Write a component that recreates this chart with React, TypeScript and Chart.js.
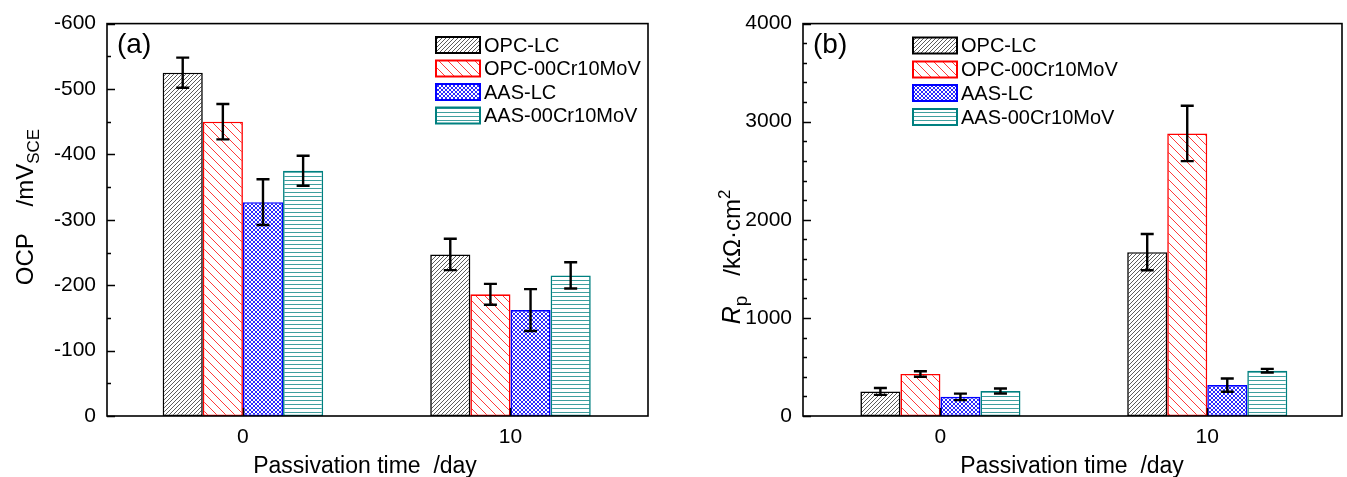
import React, { useEffect, useRef } from 'react';
import { Chart, registerables } from 'chart.js';

Chart.register(...registerables);

// ---------- data ----------
const DAYS = [0, 10];
const SERIES = ['OPC-LC', 'OPC-00Cr10MoV', 'AAS-LC', 'AAS-00Cr10MoV'];

// (a) open circuit potential, mV_SCE
const OCP_OPC_LC = [-525, -247];
const OCP_OPC_CR = [-450, -186];
const OCP_AAS_LC = [-327, -162];
const OCP_AAS_CR = [-375, -215];
const OCP_ERR_OPC_LC = [23, 24];
const OCP_ERR_OPC_CR = [27, 16];
const OCP_ERR_AAS_LC = [35, 32];
const OCP_ERR_AAS_CR = [23, 20];

// (b) polarization resistance, kΩ·cm²
const RP_OPC_LC = [250, 1670];
const RP_OPC_CR = [428, 2880];
const RP_AAS_LC = [195, 315];
const RP_AAS_CR = [255, 462];
const RP_ERR_OPC_LC = [35, 185];
const RP_ERR_OPC_CR = [28, 282];
const RP_ERR_AAS_LC = [33, 68];
const RP_ERR_AAS_CR = [25, 18];

// ---------- styles ----------
const FONT = '"Liberation Sans", Arial, Helvetica, sans-serif';
const BORDERS = ['#000000', '#ff0000', '#0000ff', '#008080'];

function makePattern(kind: string): CanvasPattern | string {
  const c = document.createElement('canvas');
  let w = 8, h = 8;
  if (kind === 'fwd') { w = h = 4; }
  if (kind === 'back') { w = h = 9; }
  if (kind === 'cross') { w = h = 4; }
  if (kind === 'horiz') { w = 4; h = 4; }
  c.width = w; c.height = h;
  const ctx = c.getContext('2d');
  if (!ctx) return '#fff';
  ctx.fillStyle = '#ffffff';
  ctx.fillRect(0, 0, w, h);
  ctx.beginPath();
  if (kind === 'fwd') {
    ctx.strokeStyle = '#4a4a4a';
    ctx.lineWidth = 0.9;
    ctx.moveTo(0, h); ctx.lineTo(w, 0);
    ctx.moveTo(-1, 1); ctx.lineTo(1, -1);
    ctx.moveTo(w - 1, h + 1); ctx.lineTo(w + 1, h - 1);
    ctx.stroke();
  } else if (kind === 'back') {
    ctx.strokeStyle = '#ff3a3a';
    ctx.lineWidth = 1;
    ctx.moveTo(0, 0); ctx.lineTo(w, h);
    ctx.moveTo(-1, h - 1); ctx.lineTo(1, h + 1);
    ctx.moveTo(w - 1, -1); ctx.lineTo(w + 1, 1);
    ctx.stroke();
  } else if (kind === 'cross') {
    ctx.strokeStyle = '#2a2aff';
    ctx.lineWidth = 1;
    ctx.moveTo(0, h); ctx.lineTo(w, 0);
    ctx.moveTo(-1, 1); ctx.lineTo(1, -1);
    ctx.moveTo(w - 1, h + 1); ctx.lineTo(w + 1, h - 1);
    ctx.moveTo(0, 0); ctx.lineTo(w, h);
    ctx.moveTo(-1, h - 1); ctx.lineTo(1, h + 1);
    ctx.moveTo(w - 1, -1); ctx.lineTo(w + 1, 1);
    ctx.stroke();
  } else if (kind === 'horiz') {
    ctx.fillStyle = '#3f9f9f';
    ctx.fillRect(0, 0, w, 1);
  }
  return ctx.createPattern(c, 'repeat') || '#fff';
}

type Seg = { text: string; size: number; italic?: boolean; dy?: number };

function drawSegs(ctx: CanvasRenderingContext2D, cx: number, cy: number, segs: Seg[], rotate: boolean) {
  ctx.save();
  ctx.translate(cx, cy);
  if (rotate) ctx.rotate(-Math.PI / 2);
  ctx.fillStyle = '#000';
  ctx.textBaseline = 'alphabetic';
  ctx.textAlign = 'left';
  const widths = segs.map((s) => {
    ctx.font = `${s.italic ? 'italic ' : ''}${s.size}px ${FONT}`;
    return ctx.measureText(s.text).width;
  });
  const total = widths.reduce((a, b) => a + b, 0);
  let x = -total / 2;
  const base = segs[0].size * 0.36;
  segs.forEach((s, i) => {
    ctx.font = `${s.italic ? 'italic ' : ''}${s.size}px ${FONT}`;
    ctx.fillText(s.text, x, base + (s.dy || 0));
    x += widths[i];
  });
  ctx.restore();
}

type PanelCfg = {
  values: number[][];
  errors: number[][];
  yMin: number;
  yMax: number;
  yStep: number;
  yMinor: number;
  reverse: boolean;
  xMin: number;
  xMax: number;
  yAxisWidth: number;
  padRight: number;
  label: string;
  labelX: number;
  legendBoxX: number;
  legendRows: number[];
  xTitleX: number;
  yTitleX: number;
  yTitleY: number;
  yTitle: Seg[];
};

function buildChart(canvas: HTMLCanvasElement, cfg: PanelCfg) {
  const patterns = [makePattern('fwd'), makePattern('back'), makePattern('cross'), makePattern('horiz')];
  const plugin = {
    id: 'paperDecor',
    afterDatasetsDraw(chart: any) {
      const ctx: CanvasRenderingContext2D = chart.ctx;
      const ys = chart.scales.y;
      ctx.save();
      ctx.strokeStyle = '#000';
      ctx.lineWidth = 2.4;
      cfg.values.forEach((vals, d) => {
        const meta = chart.getDatasetMeta(d);
        vals.forEach((v, i) => {
          const el = meta.data[i];
          if (!el) return;
          const e = cfg.errors[d][i];
          const y1 = ys.getPixelForValue(v - e);
          const y2 = ys.getPixelForValue(v + e);
          const x = el.x;
          ctx.beginPath();
          ctx.moveTo(x, y1); ctx.lineTo(x, y2);
          ctx.moveTo(x - 6.5, y1); ctx.lineTo(x + 6.5, y1);
          ctx.moveTo(x - 6.5, y2); ctx.lineTo(x + 6.5, y2);
          ctx.stroke();
        });
      });
      ctx.restore();
    },
    afterDraw(chart: any) {
      const ctx: CanvasRenderingContext2D = chart.ctx;
      const a = chart.chartArea;
      const ys = chart.scales.y;
      const xs = chart.scales.x;
      ctx.save();
      // frame
      ctx.strokeStyle = '#000';
      ctx.lineWidth = 1.6;
      ctx.strokeRect(a.left, a.top, a.right - a.left, a.bottom - a.top);
      // inward ticks on y axis
      ctx.lineWidth = 1.5;
      ctx.beginPath();
      for (let v = cfg.yMin; v <= cfg.yMax + 1e-9; v += cfg.yMinor) {
        const y = Math.round(ys.getPixelForValue(v)) + 0.5;
        const major = Math.abs(v / cfg.yStep - Math.round(v / cfg.yStep)) < 1e-6;
        ctx.moveTo(a.left, y);
        ctx.lineTo(a.left + (major ? 8 : 4), y);
      }
      DAYS.forEach((d) => {
        const x = Math.round(xs.getPixelForValue(d)) + 0.5;
        ctx.moveTo(x, a.bottom);
        ctx.lineTo(x, a.bottom - 8);
      });
      ctx.stroke();
      // panel label
      ctx.fillStyle = '#000';
      ctx.font = `28px ${FONT}`;
      ctx.textBaseline = 'middle';
      ctx.textAlign = 'left';
      ctx.fillText(cfg.label, cfg.labelX, 45);
      // legend
      SERIES.forEach((name, i) => {
        const cy = cfg.legendRows[i];
        ctx.fillStyle = patterns[i] as any;
        ctx.fillRect(cfg.legendBoxX, cy - 8, 44, 16);
        ctx.strokeStyle = BORDERS[i];
        ctx.lineWidth = 2;
        ctx.strokeRect(cfg.legendBoxX, cy - 8, 44, 16);
        ctx.fillStyle = '#000';
        ctx.font = `20px ${FONT}`;
        ctx.textBaseline = 'middle';
        ctx.fillText(name, cfg.legendBoxX + 48, cy + 1);
      });
      // axis titles
      drawSegs(ctx, cfg.xTitleX, 465, [{ text: 'Passivation time  /day', size: 23 }], false);
      drawSegs(ctx, cfg.yTitleX, cfg.yTitleY, cfg.yTitle, true);
      ctx.restore();
    },
  };

  return new Chart(canvas, {
    type: 'bar',
    data: {
      datasets: SERIES.map((name, i) => ({
        label: name,
        data: DAYS.map((d, j) => ({ x: d, y: cfg.values[i][j] })),
        backgroundColor: patterns[i] as any,
        borderColor: BORDERS[i],
        borderWidth: 1.6,
        borderSkipped: false,
        categoryPercentage: 0.6,
        barPercentage: 1.0,
      })),
    },
    options: {
      responsive: false,
      animation: false,
      events: [],
      layout: { padding: { top: 22, right: cfg.padRight, left: 0, bottom: 0 } },
      plugins: { legend: { display: false }, tooltip: { enabled: false }, title: { display: false } },
      scales: {
        x: {
          type: 'linear',
          min: cfg.xMin,
          max: cfg.xMax,
          offset: false,
          afterBuildTicks: (s: any) => { s.ticks = DAYS.map((v) => ({ value: v })); },
          afterFit: (s: any) => { s.height = 61; },
          grid: { display: false, drawTicks: false },
          border: { display: false },
          ticks: {
            color: '#000',
            font: { family: FONT, size: 21 },
            padding: 9,
            maxRotation: 0,
            autoSkip: false,
            callback: (v: any) => String(v),
          },
        },
        y: {
          type: 'linear',
          min: cfg.yMin,
          max: cfg.yMax,
          reverse: cfg.reverse,
          afterFit: (s: any) => { s.width = cfg.yAxisWidth; },
          grid: { display: false, drawTicks: false },
          border: { display: false },
          ticks: {
            stepSize: cfg.yStep,
            color: '#000',
            font: { family: FONT, size: 21 },
            padding: 11,
            callback: (v: any) => String(v),
          },
        },
      },
    } as any,
    plugins: [plugin],
  });
}

export default function App() {
  const leftRef = useRef<HTMLCanvasElement>(null);
  const rightRef = useRef<HTMLCanvasElement>(null);

  useEffect(() => {
    document.body.style.margin = '0';
    const left = buildChart(leftRef.current!, {
      values: [OCP_OPC_LC, OCP_OPC_CR, OCP_AAS_LC, OCP_AAS_CR],
      errors: [OCP_ERR_OPC_LC, OCP_ERR_OPC_CR, OCP_ERR_AAS_LC, OCP_ERR_AAS_CR],
      yMin: -600, yMax: 0, yStep: 100, yMinor: 50, reverse: true,
      xMin: -5.08, xMax: 15.14,
      yAxisWidth: 107, padRight: 26,
      label: '(a)', labelX: 117,
      legendBoxX: 436, legendRows: [45, 68.5, 92, 115.5],
      xTitleX: 365,
      yTitleX: 24, yTitleY: 207,
      yTitle: [
        { text: 'OCP    /mV', size: 24 },
        { text: 'SCE', size: 17, dy: 6 },
      ],
    });
    const right = buildChart(rightRef.current!, {
      values: [RP_OPC_LC, RP_OPC_CR, RP_AAS_LC, RP_AAS_CR],
      errors: [RP_ERR_OPC_LC, RP_ERR_OPC_CR, RP_ERR_AAS_LC, RP_ERR_AAS_CR],
      yMin: 0, yMax: 4000, yStep: 1000, yMinor: 200, reverse: false,
      xMin: -5.15, xMax: 15.05,
      yAxisWidth: 129, padRight: 5,
      label: '(b)', labelX: 139,
      legendBoxX: 239, legendRows: [45.5, 69.5, 93, 117],
      xTitleX: 398,
      yTitleX: 57, yTitleY: 257,
      yTitle: [
        { text: 'R', size: 25, italic: true },
        { text: 'p', size: 19, dy: 7 },
        { text: '   /k\u03A9\u00B7cm', size: 24 },
        { text: '2', size: 17, dy: -10 },
      ],
    });
    return () => {
      left.destroy();
      right.destroy();
    };
  }, []);

  return (
    <div style={{ position: 'relative', width: 1347, height: 477, background: '#fff' }}>
      <canvas ref={leftRef} width={674} height={477} style={{ position: 'absolute', left: 0, top: 0 }} />
      <canvas ref={rightRef} width={673} height={477} style={{ position: 'absolute', left: 674, top: 0 }} />
    </div>
  );
}
